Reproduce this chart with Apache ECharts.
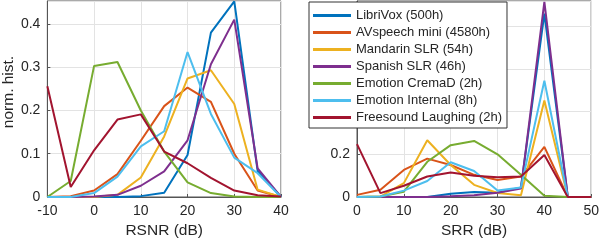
<!DOCTYPE html>
<html><head><meta charset="utf-8">
<script src="https://cdn.jsdelivr.net/npm/echarts@6/dist/echarts.min.js"></script>
<style>html,body{margin:0;padding:0;background:#fff}#c{width:602px;height:244px}</style>
</head><body><div id="c"></div>
<script>
var names = ['LibriVox (500h)','AVspeech mini (4580h)','Mandarin SLR (54h)','Spanish SLR (46h)','Emotion CremaD (2h)','Emotion Internal (8h)','Freesound Laughing (2h)'];
var colors = ['#0072BD','#D95319','#EDB120','#7E2F8E','#77AC30','#4DBEEE','#A2142F'];
var rsnrX = [-10,-5,0,5,10,15,20,25,30,35,40];
var srrX = [0,5,10,15,20,25,30,35,40,45,50];
var rsnrLibri   = [0,0,0,0,0.002,0.01,0.097,0.38,0.452,0.06,0];
var rsnrAV      = [0,0.002,0.015,0.053,0.13,0.21,0.253,0.22,0.10,0.015,0];
var rsnrMand    = [0,0,0,0.005,0.045,0.14,0.274,0.293,0.215,0.017,0];
var rsnrSpan    = [0,0,0.001,0.005,0.026,0.059,0.131,0.307,0.41,0.066,0];
var rsnrCrema   = [0,0.037,0.303,0.312,0.2,0.105,0.034,0.009,0.001,0,0];
var rsnrInt     = [0,0,0.009,0.047,0.117,0.152,0.335,0.192,0.091,0.055,0];
var rsnrLaugh   = [0.256,0.023,0.108,0.179,0.191,0.105,0.078,0.044,0.015,0.004,0.001];
var srrLibri    = [0,0,0,0,0.015,0.023,0.02,0.045,0.86,0,0];
var srrAV       = [0.01,0.034,0.127,0.18,0.15,0.104,0.08,0.096,0.235,0,0];
var srrMand     = [0,0.002,0.065,0.266,0.15,0.057,0.019,0.008,0.452,0,0];
var srrSpan     = [0,0,0,0,0.003,0.008,0.02,0.04,0.915,0,0];
var srrCrema    = [0,0.002,0.025,0.165,0.243,0.263,0.2,0.104,0.006,0,0];
var srrInt      = [0,0.002,0.03,0.075,0.163,0.122,0.03,0.045,0.545,0,0];
var srrLaugh    = [0.248,0.018,0.053,0.096,0.115,0.1,0.093,0.096,0.197,0,0];

var rsnrSets = [rsnrLibri,rsnrAV,rsnrMand,rsnrSpan,rsnrCrema,rsnrInt,rsnrLaugh];
var srrSets = [srrLibri,srrAV,srrMand,srrSpan,srrCrema,srrInt,srrLaugh];

var font = 'Liberation Sans, Arial, Helvetica, sans-serif';
var txt = '#262626';
function pairs(xs, ys){ return xs.map(function(x,i){return [x, ys[i]];}); }
var series = [];
names.forEach(function(n,i){
  series.push({name:n,type:'line',xAxisIndex:0,yAxisIndex:0,data:pairs(rsnrX,rsnrSets[i]),symbol:'none',lineStyle:{width:2,color:colors[i]},itemStyle:{color:colors[i]},animation:false});
});
names.forEach(function(n,i){
  series.push({name:n,type:'line',xAxisIndex:1,yAxisIndex:1,data:pairs(srrX,srrSets[i]),symbol:'none',lineStyle:{width:2,color:colors[i]},itemStyle:{color:colors[i]},animation:false});
});
function xAx(idx,min,max,name){
  return {type:'value',gridIndex:idx,min:min,max:max,interval:10,name:name,nameLocation:'middle',nameGap:26,
    nameTextStyle:{color:txt,fontSize:15.5,fontFamily:font},
    axisLine:{show:true,onZero:false,lineStyle:{color:'#555',width:1}},
    axisTick:{show:true,inside:true,length:3,lineStyle:{color:'#555'}},
    axisLabel:{color:txt,fontSize:14,fontFamily:font,margin:7},
    splitLine:{show:true,lineStyle:{color:'#e3e3e3',width:1}}};
}
function yAx(idx,max,interval,name){
  return {type:'value',gridIndex:idx,min:0,max:max,interval:interval,name:name,nameLocation:'middle',nameGap:30,
    nameTextStyle:{color:txt,fontSize:15.5,fontFamily:font,padding:[0,0,0,14]},
    axisLine:{show:true,onZero:false,lineStyle:{color:'#555',width:1}},
    axisTick:{show:true,inside:true,length:3,lineStyle:{color:'#555'}},
    axisLabel:{color:txt,fontSize:14,fontFamily:font,margin:7,showMaxLabel:false,
      formatter:function(v){return String(Math.round(v*10)/10);}},
    splitLine:{show:true,lineStyle:{color:'#e3e3e3',width:1}}};
}
var chart = echarts.init(document.getElementById('c'),null,{renderer:'canvas'});
chart.setOption({
  backgroundColor:'#fff',
  animation:false,
  grid:[
    {left:45,top:1,width:236,height:198,show:true,borderColor:'#555',borderWidth:1,backgroundColor:'transparent'},
    {left:357,top:1,width:236,height:198,show:true,borderColor:'#555',borderWidth:1,backgroundColor:'transparent'}
  ],
  xAxis:[xAx(0,-10,40,'RSNR (dB)'),xAx(1,0,50,'SRR (dB)')],
  yAxis:[yAx(0,0.453,0.1,'norm. hist.'),yAx(1,0.919,0.2,'')],
  legend:{
    data:names,orient:'vertical',left:309,top:2,
    icon:'rect',itemWidth:38,itemHeight:3,itemGap:2,
    padding:[6,5,3,4],
    backgroundColor:'#fff',borderColor:'#333',borderWidth:1,
    textStyle:{color:txt,fontSize:13,fontFamily:font,lineHeight:15}
  },
  series:series
});
</script></body></html>
